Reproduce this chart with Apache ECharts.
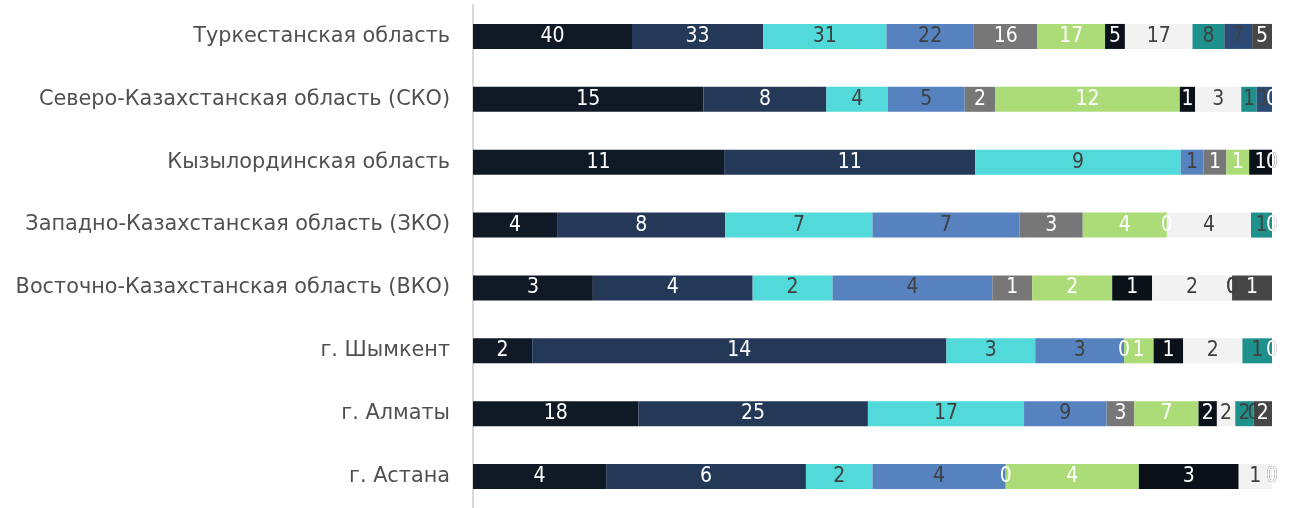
<!DOCTYPE html>
<html>
<head>
<meta charset="utf-8">
<script src="https://cdn.jsdelivr.net/npm/echarts@6/dist/echarts.min.js"></script>
<style>html,body{margin:0;padding:0;background:#fff;}#c{width:1301px;height:508px;}</style>
</head>
<body>
<div id="c"></div>
<script>
const categories = ['Туркестанская область','Северо-Казахстанская область (СКО)','Кызылординская область','Западно-Казахстанская область (ЗКО)','Восточно-Казахстанская область (ВКО)','г. Шымкент','г. Алматы','г. Астана'];
const s1 = [40,15,11,4,3,2,18,4];
const s2 = [33,8,11,8,4,14,25,6];
const s3 = [31,4,9,7,2,3,17,2];
const s4 = [22,5,1,7,4,3,9,4];
const s5 = [16,2,1,3,1,0,3,0];
const s6 = [17,12,1,4,2,1,7,4];
const s7 = [5,1,1,0,1,1,2,3];
const s8 = [17,3,0,4,2,2,2,1];
const s9 = [8,1,0,1,0,1,2,0];
const s10 = [7,1,0,0,0,0,0,0];
const s11 = [5,0,0,0,1,0,2,0];

const seriesValues = [s1,s2,s3,s4,s5,s6,s7,s8,s9,s10,s11];
const colors = ['#0f1a26','#243858','#52d9d9','#5683c0','#777777','#acdc78','#0a1118','#f2f2f2','#1f918c','#2c4b74','#464646'];
const labelColors = ['#ffffff','#ffffff','#404040','#404040','#ffffff','#ffffff','#ffffff','#404040','#404040','#404040','#ffffff'];

const totals = categories.map((c,i)=>seriesValues.reduce((a,s)=>a+s[i],0));

const series = seriesValues.map((vals,k)=>({
  type:'bar',
  stack:'all',
  barWidth:25,
  clip:false,
  itemStyle:{color:colors[k]},
  label:{
    show:true,
    position:'inside',
    color:labelColors[k],
    fontFamily:'DejaVu Sans Condensed, DejaVu Sans',
    fontSize:21,
    padding:[3,0,0,0],
    formatter:p=>String(vals[p.dataIndex])
  },
  emphasis:{disabled:true},
  data:vals.map((v,i)=>v/totals[i]*100)
}));

const chart = echarts.init(document.getElementById('c'));
chart.setOption({
  animation:false,
  grid:{left:473,right:29,top:5,height:506,containLabel:false},
  xAxis:{type:'value',min:0,max:100,show:false},
  yAxis:{
    type:'category',
    inverse:true,
    data:categories,
    offset:1,
    axisLine:{show:true,lineStyle:{color:'#d9d9d9',width:2}},
    axisTick:{show:false},
    axisLabel:{color:'#505050',fontFamily:'DejaVu Sans',fontSize:20.8,margin:22,padding:[4,0,0,0]}
  },
  series:series
});
</script>
</body>
</html>
